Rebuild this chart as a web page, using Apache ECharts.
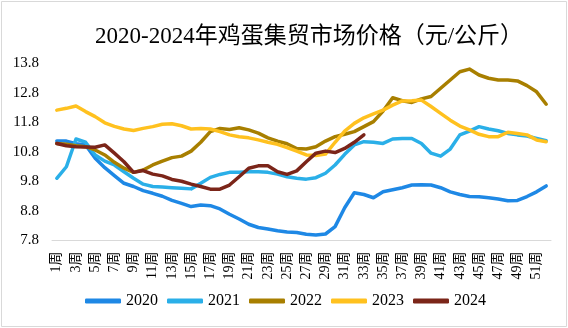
<!DOCTYPE html>
<html>
<head>
<meta charset="utf-8">
<script src="https://cdn.jsdelivr.net/npm/echarts@6/dist/echarts.min.js"></script>
<style>
  html, body { margin: 0; padding: 0; background: #fff; }
  #chart { width: 568px; height: 328px; }
</style>
</head>
<body>
<div id="chart"></div>
<script>
// Weekly egg prices at rural/urban fairs, yuan per kg
const weeks = Array.from({ length: 52 }, (_, i) => (i + 1) + '周');
const yTickValues = [7.8, 8.8, 9.8, 10.8, 11.8, 12.8, 13.8];
const years = ['2020', '2021', '2022', '2023', '2024'];

const price2020 = [11.17, 11.17, 11.08, 11.04, 10.59, 10.27, 10.00, 9.74, 9.63, 9.49,
  9.40, 9.30, 9.16, 9.06, 8.95, 9.00, 8.98, 8.87, 8.69, 8.53,
  8.35, 8.24, 8.19, 8.13, 8.09, 8.07, 8.01, 7.99, 8.02, 8.27,
  8.91, 9.42, 9.36, 9.25, 9.45, 9.52, 9.59, 9.68, 9.69, 9.68,
  9.59, 9.45, 9.36, 9.29, 9.28, 9.25, 9.21, 9.15, 9.16, 9.29,
  9.45, 9.65];
const price2021 = [9.91, 10.30, 11.24, 11.13, 10.70, 10.49, 10.36, 10.13, 9.91, 9.71,
  9.63, 9.61, 9.59, 9.57, 9.55, 9.74, 9.94, 10.04, 10.11, 10.11,
  10.13, 10.13, 10.11, 10.05, 9.96, 9.91, 9.88, 9.93, 10.08, 10.36,
  10.72, 11.04, 11.15, 11.13, 11.09, 11.24, 11.26, 11.26, 11.09, 10.76,
  10.66, 10.90, 11.38, 11.51, 11.66, 11.58, 11.52, 11.43, 11.38, 11.34,
  11.26, 11.18];
const price2022 = [11.09, 11.06, 11.01, 10.98, 10.87, 10.70, 10.45, 10.25, 10.11, 10.19,
  10.36, 10.49, 10.61, 10.66, 10.83, 11.13, 11.49, 11.60, 11.56, 11.62,
  11.55, 11.44, 11.28, 11.17, 11.08, 10.92, 10.90, 10.98, 11.17, 11.32,
  11.40, 11.49, 11.66, 11.83, 12.19, 12.64, 12.54, 12.48, 12.60, 12.68,
  12.96, 13.24, 13.52, 13.61, 13.41, 13.30, 13.24, 13.24, 13.21, 13.05,
  12.84, 12.42];
const price2023 = [12.22, 12.28, 12.36, 12.17, 12.00, 11.79, 11.67, 11.58, 11.53, 11.60,
  11.66, 11.74, 11.76, 11.69, 11.58, 11.60, 11.58, 11.49, 11.38, 11.32,
  11.28, 11.21, 11.13, 11.06, 10.95, 10.83, 10.70, 10.68, 10.73, 11.13,
  11.51, 11.77, 11.96, 12.09, 12.22, 12.39, 12.53, 12.54, 12.56, 12.34,
  12.11, 11.88, 11.68, 11.55, 11.40, 11.32, 11.32, 11.47, 11.43, 11.38,
  11.21, 11.15];
const price2024 = [11.09, 11.01, 10.98, 10.97, 10.96, 11.04, 10.76, 10.47, 10.11, 10.17,
  10.05, 9.99, 9.87, 9.81, 9.71, 9.63, 9.54, 9.54, 9.68, 9.96,
  10.25, 10.33, 10.33, 10.13, 10.04, 10.16, 10.47, 10.76, 10.83, 10.78,
  10.92, 11.13, 11.38];

const seriesData = [price2020, price2021, price2022, price2023, price2024];
const colors = ['#1E88E5', '#2AAFE8', '#A87F00', '#FFC11F', '#7B2519'];

const serif = '"Liberation Serif", "Times New Roman", "Noto Sans CJK SC", serif';

const chart = echarts.init(document.getElementById('chart'), null, { renderer: 'canvas' });

chart.setOption({
  animation: false,
  backgroundColor: '#fff',
  color: colors,
  title: {
    text: '2020-2024年鸡蛋集贸市场价格（元/公斤）',
    left: 304,
    textAlign: 'center',
    top: 20,
    textStyle: { fontFamily: serif, fontSize: 23, fontWeight: 'normal', color: '#000' }
  },
  legend: {
    data: years,
    left: 80,
    top: 288,
    icon: 'roundRect',
    itemWidth: 36,
    itemHeight: 5,
    itemGap: 9,
    textStyle: { fontFamily: serif, fontSize: 16, color: '#000' }
  },
  grid: { left: 52, right: 17, top: 63.5, bottom: 87.5 },
  xAxis: {
    type: 'category',
    data: weeks,
    boundaryGap: true,
    axisLine: { lineStyle: { color: '#d9d9d9', width: 1 } },
    axisTick: { show: false },
    axisLabel: {
      interval: 1,
      rotate: 90,
      margin: 11,
      fontFamily: serif,
      fontSize: 14,
      color: '#000'
    }
  },
  yAxis: {
    type: 'value',
    min: 7.8,
    max: 13.8,
    axisLine: { show: false },
    axisTick: { show: false },
    splitLine: { show: false },
    axisLabel: {
      customValues: yTickValues,
      formatter: v => v.toFixed(1),
      margin: 13,
      fontFamily: serif,
      fontSize: 15,
      color: '#000'
    }
  },
  series: years.map((name, i) => ({
    name,
    type: 'line',
    data: seriesData[i],
    symbol: 'none',
    showSymbol: false,
    lineStyle: { width: 3.5, color: colors[i], join: 'round', cap: 'round' },
    itemStyle: { color: colors[i] }
  })),
  graphic: [{
    type: 'rect',
    shape: { x: 1.5, y: 1.5, width: 565, height: 325 },
    style: { fill: 'none', stroke: '#d9d9d9', lineWidth: 1 },
    silent: true
  }]
});
</script>
</body>
</html>
